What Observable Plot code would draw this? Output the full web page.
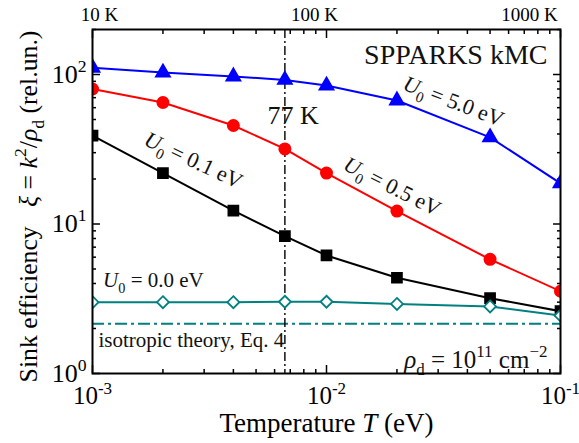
<!DOCTYPE html>
<html><head><meta charset="utf-8">
<script src="https://cdn.jsdelivr.net/npm/d3@7"></script>
<script src="https://cdn.jsdelivr.net/npm/@observablehq/plot@0.6"></script>
<style>
body{margin:0;background:#fff}
svg text{white-space:pre}
</style>
</head><body><div id="chart"></div>
<script>
// ---- data ----
const temperatureEV = [0.001, 0.002, 0.004, 0.00664, 0.01, 0.02, 0.05, 0.1];
const xiU50 = [111, 103, 97, 92, 84.4, 67, 38, 18.7];
const xiU05 = [80, 65, 45.6, 31.8, 21.9, 12.2, 5.8, 3.55];
const xiU01 = [39, 21.9, 12.3, 8.3, 6.16, 4.37, 3.19, 2.61];
const xiU00 = [3.0, 3.0, 3.0, 3.02, 3.02, 2.92, 2.81, 2.44];
const seriesValues = [xiU50, xiU05, xiU01, xiU00];
const seriesKeys = ["U0=5.0", "U0=0.5", "U0=0.1", "U0=0.0"];
const seriesColors = ["#0000ff", "#ff0000", "#000000", "#008080"];
const seriesSymbols = ["triangle", "circle", "square", "diamond2"];
const seriesFill = ["#0000ff", "#ff0000", "#000000", "#ffffff"];
const seriesR = [5.2, 5.6, 5.6, 5.4];

const isotropicXi = 2.15;
const temp77K = 0.00664;

const xMajorTicks = [0.001, 0.01, 0.1];
const xTickLabels = ["10^{-3}", "10^{-2}", "10^{-1}"];
const yMajorTicks = [1, 10, 100];
const yTickLabels = ["10^{0}", "10^{1}", "10^{2}"];
const topLabels = ["10 K", "100 K", "1000 K"];
const topLabelPos = [0.00107, 0.00889, 0.0737];

const annText = ["SPPARKS kMC", "77 K", "*{U}_{0} = 5.0 eV", "*{U}_{0} = 0.5 eV", "*{U}_{0} = 0.1 eV",
  "*{U}_{0} = 0.0 eV", "isotropic theory, Eq. 4", "*{ρ}_{d} = 10^{11} cm^{−2}"];
const annX = [0.088, 0.0072, 0.0349, 0.0191, 0.0027, 0.00111, 0.00106, 0.088];
const annY = [136, 53, 66, 17.8, 26.6, 4.19, 1.66, 1.24];
const annRotate = [0, 0, 21, 27, 25, 0, 0, 0];
const annSize = [28, 26, 22, 22, 22, 21, 21, 25];
const annAnchor = ["end", "middle", "middle", "middle", "middle", "start", "start", "end"];

// ---- tables ----
const rows = seriesKeys.flatMap((k, s) => temperatureEV.map((t, i) => ({T: t, xi: seriesValues[s][i], s})));
const ann = annText.map((t, i) => ({t, x: annX[i], y: annY[i], r: annRotate[i], f: annSize[i], a: annAnchor[i]}));
const minorX = [];
for (const d of [0.001, 0.01]) for (let m = 2; m <= 9; m++) minorX.push(d * m);
const minorY = [];
for (const d of [1, 10, 100]) for (let m = 2; m <= 9; m++) if (d * m <= 200) minorY.push(d * m);

const marks = [];
// ticks (inward) on all sides
for (const anchor of ["bottom", "top"]) {
  marks.push(Plot.axisX(minorX, {anchor, tickSize: -4, tickFormat: () => "", label: null, strokeWidth: 1.5}));
  marks.push(Plot.axisX(xMajorTicks, {anchor, tickSize: -8, tickFormat: () => "", label: null, strokeWidth: 1.5}));
}
for (const anchor of ["left", "right"]) {
  marks.push(Plot.axisY(minorY, {anchor, tickSize: -4, tickFormat: () => "", label: null, strokeWidth: 1.5}));
  marks.push(Plot.axisY(yMajorTicks, {anchor, tickSize: -8, tickFormat: () => "", label: null, strokeWidth: 1.5}));
}
marks.push(Plot.axisX(xMajorTicks, {anchor: "bottom", tickSize: 0, tickPadding: 13, fontSize: 25,
  tickFormat: (d) => xTickLabels[xMajorTicks.indexOf(d)], label: null}));
marks.push(Plot.axisY(yMajorTicks, {anchor: "left", tickSize: 0, tickPadding: 6, fontSize: 26,
  tickFormat: (d) => yTickLabels[yMajorTicks.indexOf(d)], label: null}));

// reference lines
marks.push(Plot.ruleY([isotropicXi], {stroke: "#008080", strokeWidth: 2, strokeDasharray: "12,4,3,4"}));
marks.push(Plot.ruleX([temp77K], {stroke: "#000", strokeWidth: 1.4, strokeDasharray: "9,3,2,3"}));

// series
seriesKeys.forEach((k, s) => {
  const d = rows.filter((r) => r.s === s);
  marks.push(Plot.line(d, {x: "T", y: "xi", stroke: seriesColors[s], strokeWidth: 2, clip: true}));
  marks.push(Plot.dot(d, {x: "T", y: "xi", symbol: () => seriesSymbols[s], r: seriesR[s],
    fill: seriesFill[s], stroke: seriesColors[s], strokeWidth: 1.8, clip: true}));
});

// annotations
ann.forEach((a) => {
  marks.push(Plot.text([a], {x: "x", y: "y", text: "t", rotate: a.r, fontSize: a.f, textAnchor: a.a, fill: "#111"}));
});
// top kelvin labels
marks.push(Plot.text(topLabels, {x: (d, i) => topLabelPos[i], frameAnchor: "top", lineAnchor: "bottom", dy: -9, fontSize: 19, text: (d) => d}));
// axis titles
marks.push(Plot.text(["Temperature *{T} (eV)"], {frameAnchor: "bottom", dy: 58, fontSize: 27, text: (d) => d}));
marks.push(Plot.text(["Sink efficiency\u00a0\u00a0 *{ξ} = *{k}^{2}/*{ρ}_{d} (rel.un.)"], {frameAnchor: "left", textAnchor: "middle", lineAnchor: "middle", dx: -64, dy: 5, rotate: -90, fontSize: 26, text: (d) => d}));
marks.push(Plot.frame({stroke: "#000", strokeWidth: 2}));

const chart = Plot.plot({
  width: 579, height: 443,
  marginLeft: 92, marginRight: 19, marginTop: 29, marginBottom: 70,
  style: {fontFamily: "'Liberation Serif', 'Times New Roman', serif", background: "#fff", color: "#000", overflow: "visible"},
  x: {type: "log", domain: [0.001, 0.1]},
  y: {type: "log", domain: [1, 200]},
  marks
});
document.getElementById("chart").appendChild(chart);

// rich text: *{italic} _{sub} ^{sup}
const NS = "http://www.w3.org/2000/svg";
chart.querySelectorAll("text").forEach((el) => {
  const s = el.textContent;
  if (!/[_^*]\{/.test(s)) return;
  const size = parseFloat(getComputedStyle(el).fontSize) || 20;
  el.textContent = "";
  let shift = 0;
  const add = (str, kind) => {
    if (!str) return;
    const t = document.createElementNS(NS, "tspan");
    t.textContent = str;
    let target = 0;
    if (kind === "_") { target = 0.28 * size; t.setAttribute("font-size", 0.68 * size); }
    else if (kind === "^") { target = -0.42 * size; t.setAttribute("font-size", 0.68 * size); }
    else if (kind === "*") t.setAttribute("font-style", "italic");
    const dy = target - shift;
    if (dy) t.setAttribute("dy", dy.toFixed(2));
    shift = target;
    el.appendChild(t);
  };
  const re = /([_^*])\{([^}]*)\}/g;
  let last = 0, m;
  while ((m = re.exec(s))) { add(s.slice(last, m.index), ""); add(m[2], m[1]); last = re.lastIndex; }
  add(s.slice(last), "");
  if (s.startsWith("Sink")) {
    // compress the rotated axis title along its length to fit the frame height
    const len = el.getComputedTextLength();
    const k = len > 0 ? Math.min(1, 352 / len) : 1;
    const tr = el.getAttribute("transform") || "";
    el.setAttribute("transform", (tr + ` scale(${k.toFixed(3)},1)`).trim());
  }
});
</script></body></html>
